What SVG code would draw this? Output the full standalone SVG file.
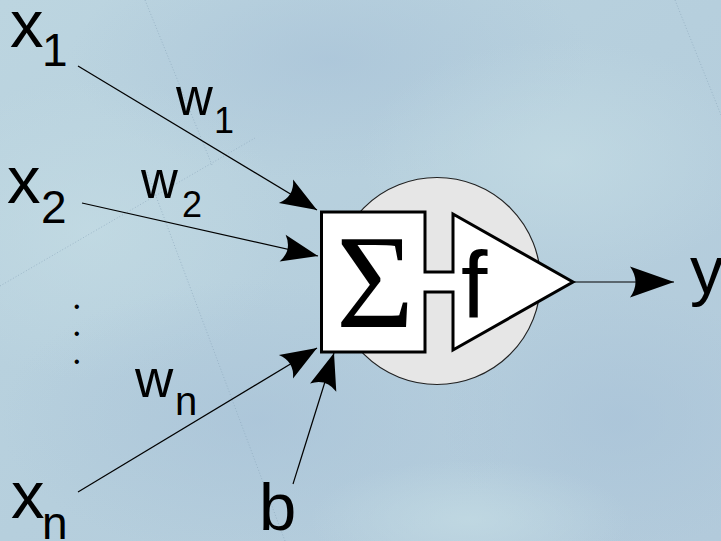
<svg xmlns="http://www.w3.org/2000/svg" width="721" height="541" viewBox="0 0 721 541">
  <defs>
    <linearGradient id="bg" x1="0" y1="0" x2="1" y2="1">
      <stop offset="0" stop-color="#bcd5e0"/>
      <stop offset="0.5" stop-color="#b6cfdd"/>
      <stop offset="1" stop-color="#b2cadb"/>
    </linearGradient>
    <radialGradient id="blob1" cx="0.5" cy="0.5" r="0.5">
      <stop offset="0" stop-color="#a9c3d8" stop-opacity="0.7"/>
      <stop offset="1" stop-color="#a9c3d8" stop-opacity="0"/>
    </radialGradient>
    <radialGradient id="blob2" cx="0.5" cy="0.5" r="0.5">
      <stop offset="0" stop-color="#c4dce4" stop-opacity="0.7"/>
      <stop offset="1" stop-color="#c4dce4" stop-opacity="0"/>
    </radialGradient>
    <marker id="arrIn" markerUnits="userSpaceOnUse" markerWidth="40" markerHeight="30" viewBox="-30 -12 32 24" refX="0" refY="0" orient="auto" overflow="visible">
      <path d="M0,0 L-29,-11 Q-21,0 -29,11 Z" fill="#000"/>
    </marker>
    <marker id="arrOut" markerUnits="userSpaceOnUse" markerWidth="50" markerHeight="34" viewBox="-46 -17 48 34" refX="0" refY="0" orient="auto" overflow="visible">
      <path d="M0,0 L-44,-15.5 Q-33,0 -44,15.5 Z" fill="#000"/>
    </marker>
    <style>
      .lbl { font-family: "Liberation Sans", Arial, sans-serif; fill: #000; }
      .conn { stroke: #000; stroke-width: 1.2; fill: none; }
      .grid { stroke: #8eaabd; stroke-width: 1; stroke-dasharray: 1 2; fill: none; opacity: 0.7; }
    </style>
  </defs>

  <g id="background">
    <rect x="0" y="0" width="721" height="541" fill="url(#bg)"/>
    <ellipse cx="330" cy="60" rx="260" ry="120" fill="url(#blob1)"/>
    <ellipse cx="90" cy="230" rx="200" ry="150" fill="url(#blob2)"/>
    <ellipse cx="560" cy="160" rx="200" ry="120" fill="url(#blob2)"/>
    <ellipse cx="260" cy="420" rx="260" ry="140" fill="url(#blob1)"/>
    <ellipse cx="620" cy="420" rx="180" ry="130" fill="url(#blob1)"/>
    <ellipse cx="470" cy="520" rx="160" ry="60" fill="url(#blob2)"/>
    <path class="grid" d="M145,0 L212,165"/>
    <path class="grid" d="M147,172 L285,541"/>
    <path class="grid" d="M0,286 L255,138"/>
    <path class="grid" d="M675,0 L721,115"/>
  </g>

  <g id="neuron">
    <circle cx="437" cy="281" r="103.5" fill="#e6e6e6" stroke="#222" stroke-width="1.2"/>
    <path d="M321.5,212 H425 V272 H453 V214 L573,282 L453,350 V292 H425 V352 H321.5 Z" fill="#fff" stroke="#000" stroke-width="3" stroke-linejoin="miter"/>
    <text x="375" y="327" text-anchor="middle" font-family="'Liberation Serif', 'Times New Roman', serif" font-size="134" fill="#000">Σ</text>
    <text class="lbl" x="461" y="318" font-size="95">f</text>
  </g>

  <g id="connectors">
    <line class="conn" x1="78" y1="66" x2="317" y2="210" marker-end="url(#arrIn)"/>
    <line class="conn" x1="82" y1="203" x2="318" y2="256" marker-end="url(#arrIn)"/>
    <line class="conn" x1="78" y1="492" x2="317" y2="348" marker-end="url(#arrIn)"/>
    <line class="conn" x1="293" y1="484" x2="334" y2="353" marker-end="url(#arrIn)"/>
    <line class="conn" x1="573" y1="282" x2="674" y2="282" marker-end="url(#arrOut)"/>
  </g>

  <g id="x1">
    <text class="lbl" x="10" y="47" font-size="67">x</text>
    <text class="lbl" x="42" y="66" font-size="46">1</text>
  </g>
  <g id="x2">
    <text class="lbl" x="7" y="203" font-size="67">x</text>
    <text class="lbl" x="41" y="223" font-size="46">2</text>
  </g>
  <g id="dots">
    <text class="lbl" x="74" y="312" font-size="16">•</text>
    <text class="lbl" x="74" y="339" font-size="16">•</text>
    <text class="lbl" x="74" y="367" font-size="16">•</text>
  </g>
  <g id="xn">
    <text class="lbl" x="11" y="518" font-size="67">x</text>
    <text class="lbl" x="42" y="539" font-size="46">n</text>
  </g>
  <g id="w1">
    <text class="lbl" x="176" y="115" font-size="51">w</text>
    <text class="lbl" x="214" y="133" font-size="36">1</text>
  </g>
  <g id="w2">
    <text class="lbl" x="141" y="198" font-size="51">w</text>
    <text class="lbl" x="182" y="217" font-size="36">2</text>
  </g>
  <g id="wn">
    <text class="lbl" x="135" y="397" font-size="53">w</text>
    <text class="lbl" x="175" y="415" font-size="40">n</text>
  </g>
  <g id="b">
    <text class="lbl" x="259" y="530" font-size="67">b</text>
  </g>
  <g id="y">
    <text class="lbl" x="690" y="293" font-size="67">y</text>
  </g>
</svg>
